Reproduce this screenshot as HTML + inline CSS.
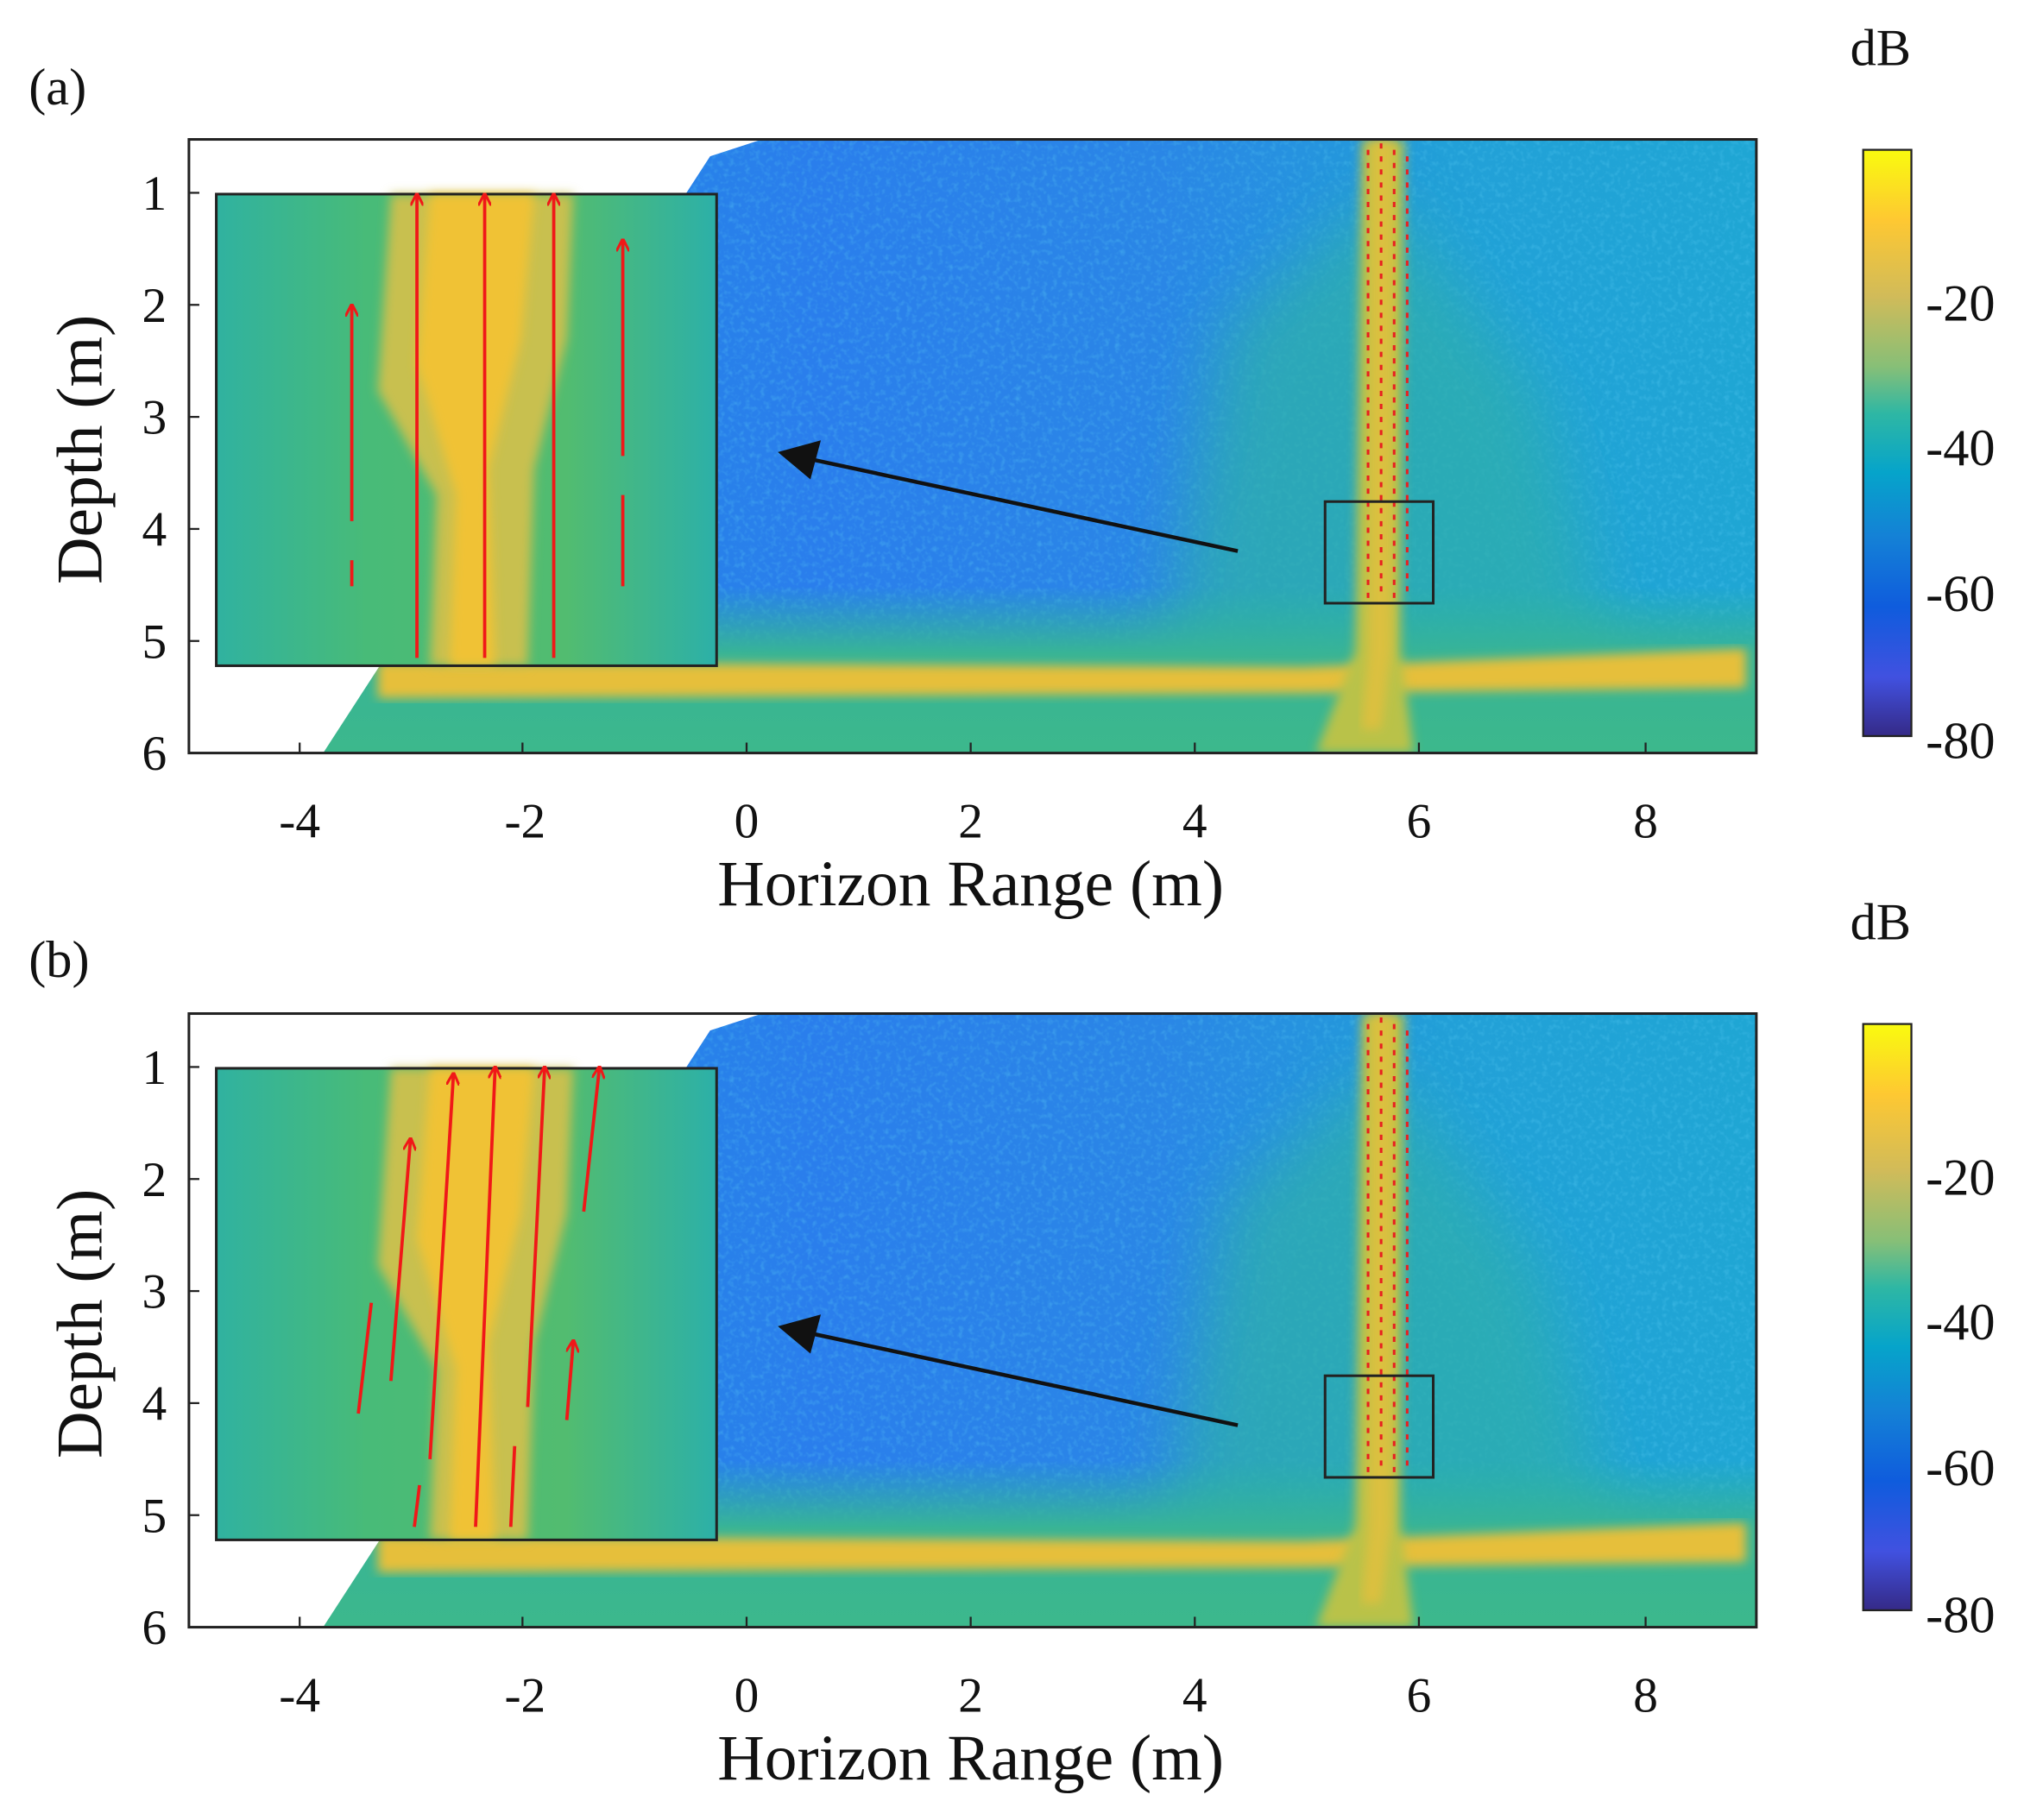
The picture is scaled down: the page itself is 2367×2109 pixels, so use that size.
<!DOCTYPE html>
<html><head><meta charset="utf-8"><style>
html,body{margin:0;padding:0;background:#fff;}
svg{display:block;}
text{font-family:"Liberation Serif",serif;fill:#111;}
</style></head><body>
<svg width="2367" height="2109" viewBox="0 0 1568 1397" preserveAspectRatio="none" xmlns="http://www.w3.org/2000/svg">
<defs>
<clipPath id="pc"><rect x="145" y="107" width="1203" height="471"/></clipPath>
<linearGradient id="cb" x1="0" y1="0" x2="0" y2="1">
<stop offset="0" stop-color="#f9fb0e"/><stop offset="0.12" stop-color="#fec832"/>
<stop offset="0.25" stop-color="#d1bb59"/><stop offset="0.37" stop-color="#87bf77"/>
<stop offset="0.45" stop-color="#2eb7a4"/><stop offset="0.55" stop-color="#06a4ca"/>
<stop offset="0.66" stop-color="#1481d6"/><stop offset="0.78" stop-color="#0f5cdd"/>
<stop offset="0.9" stop-color="#4151e0"/><stop offset="1" stop-color="#352a87"/>
</linearGradient>
<linearGradient id="bg" x1="145" y1="0" x2="1348" y2="0" gradientUnits="userSpaceOnUse">
<stop offset="0" stop-color="#1f8fe0"/><stop offset="0.4" stop-color="#2a7eec"/>
<stop offset="0.62" stop-color="#2a86e6"/><stop offset="0.8" stop-color="#22a0d8"/><stop offset="1" stop-color="#1fa6d4"/>
</linearGradient>
<linearGradient id="grn" x1="0" y1="0" x2="0" y2="1">
<stop offset="0" stop-color="#2cb4a0" stop-opacity="0"/><stop offset="0.4" stop-color="#38b496"/><stop offset="1" stop-color="#3cb88c"/>
</linearGradient>
<linearGradient id="ins" x1="0" y1="0" x2="1" y2="0">
<stop offset="0" stop-color="#30b2a0"/><stop offset="0.3" stop-color="#48bb78"/><stop offset="0.7" stop-color="#52bc70"/><stop offset="1" stop-color="#2cb0a8"/>
</linearGradient>
<filter id="bl"><feGaussianBlur stdDeviation="4"/></filter>
<filter id="bl2"><feGaussianBlur stdDeviation="25"/></filter>
<filter id="noise" x="0" y="0" width="100%" height="100%"><feTurbulence type="fractalNoise" baseFrequency="0.25" numOctaves="2" seed="3"/><feColorMatrix type="matrix" values="0 0 0 0 0.1  0 0 0 0 0.6  0 0 0 0 0.9  0 0 0 1.6 -0.75"/></filter>
<marker id="ah" markerWidth="10" markerHeight="10" refX="8" refY="5" orient="auto" markerUnits="userSpaceOnUse"><path d="M0,0 L10,5 L0,10" fill="none" stroke="#f01818" stroke-width="2"/></marker>
<g id="panel">
 <g clip-path="url(#pc)">
 <rect x="145" y="107" width="1203" height="471" fill="url(#bg)"/>
 <rect x="145" y="107" width="1203" height="471" filter="url(#noise)" opacity="0.5"/>
 <path d="M940,250 L1060,150 L1180,300 L1260,578 L880,578 Z" fill="#2fb0a8" opacity="0.7" filter="url(#bl2)"/>
 <rect x="145" y="450" width="1203" height="128" fill="url(#grn)"/>
 <path d="M290,508 L1000,512 L1340,498 L1340,528 L1000,532 L290,536 Z" fill="#e6bf3a" filter="url(#bl)"/>
 <path d="M1045,107 L1078,107 L1075,500 L1085,578 L1010,578 L1040,500 Z" fill="#b9c24a" filter="url(#bl)"/>
 <path d="M1052,107 L1070,107 L1068,500 L1060,560 L1045,560 L1050,500 Z" fill="#e4c03c" filter="url(#bl)" opacity="0.8"/>
 </g>
 <g stroke="#e82020" stroke-width="2" stroke-dasharray="4,6">
  <line x1="1050" y1="115" x2="1050" y2="460"/><line x1="1060" y1="110" x2="1060" y2="460"/><line x1="1070" y1="115" x2="1070" y2="460"/><line x1="1080" y1="120" x2="1080" y2="460"/>
 </g>
 <path d="M145,107 L585,107 L545,120 L248,578 L145,578 Z" fill="#fff"/>
 <rect x="145" y="107" width="1203" height="471" fill="none" stroke="#222" stroke-width="2"/>
 <g stroke="#222" stroke-width="1.5">
  <line x1="230" y1="578" x2="230" y2="570"/><line x1="401" y1="578" x2="401" y2="570"/><line x1="573" y1="578" x2="573" y2="570"/><line x1="745" y1="578" x2="745" y2="570"/><line x1="917" y1="578" x2="917" y2="570"/><line x1="1089" y1="578" x2="1089" y2="570"/><line x1="1263" y1="578" x2="1263" y2="570"/>
  <line x1="145" y1="148" x2="153" y2="148"/><line x1="145" y1="234" x2="153" y2="234"/><line x1="145" y1="320" x2="153" y2="320"/><line x1="145" y1="406" x2="153" y2="406"/><line x1="145" y1="492" x2="153" y2="492"/>
 </g>
 <rect x="166" y="149" width="384" height="362" fill="url(#ins)"/>
 <path d="M300,149 L440,149 L435,260 L410,360 L405,511 L330,511 L335,380 L290,300 Z" fill="#c8c050" filter="url(#bl)"/>
 <path d="M330,149 L410,149 L400,260 L375,360 L380,511 L345,511 L350,380 L320,280 Z" fill="#f0c236" filter="url(#bl)"/>
 <rect x="166" y="149" width="384" height="362" fill="none" stroke="#222" stroke-width="2"/>
 <rect x="1017" y="385" width="83" height="78" fill="none" stroke="#222" stroke-width="2"/>
 <line x1="950" y1="423" x2="620" y2="352" stroke="#111" stroke-width="3"/>
 <path d="M597,347 L630,338 L622,368 Z" fill="#111"/>
 <g font-size="38" text-anchor="middle">
  <text x="230" y="643">-4</text><text x="403" y="643">-2</text><text x="573" y="643">0</text><text x="745" y="643">2</text><text x="917" y="643">4</text><text x="1089" y="643">6</text><text x="1263" y="643">8</text>
 </g>
 <g font-size="38" text-anchor="end">
  <text x="128" y="161">1</text><text x="128" y="247">2</text><text x="128" y="333">3</text><text x="128" y="419">4</text><text x="128" y="505">5</text><text x="128" y="591">6</text>
 </g>
 <text x="745" y="695" font-size="50" text-anchor="middle">Horizon Range (m)</text>
 <text transform="translate(78,345) rotate(-90)" font-size="50" text-anchor="middle">Depth (m)</text>
 <rect x="1430" y="115" width="37" height="450" fill="url(#cb)" stroke="#222" stroke-width="1.5"/>
 <text x="1420" y="50" font-size="40">dB</text>
 <g font-size="40">
  <text x="1478" y="246">-20</text><text x="1478" y="357">-40</text><text x="1478" y="469">-60</text><text x="1478" y="582">-80</text>
 </g>
</g>
</defs>
<rect width="1568" height="1397" fill="#fff"/>
<use href="#panel"/>
<g stroke="#f01818" stroke-width="2.5" fill="none">
  <line x1="270" y1="400" x2="270" y2="235" marker-end="url(#ah)"/><line x1="270" y1="450" x2="270" y2="430"/>
  <line x1="320" y1="505" x2="320" y2="150" marker-end="url(#ah)"/>
  <line x1="372" y1="505" x2="372" y2="150" marker-end="url(#ah)"/>
  <line x1="425" y1="505" x2="425" y2="150" marker-end="url(#ah)"/>
  <line x1="478" y1="350" x2="478" y2="185" marker-end="url(#ah)"/><line x1="478" y1="450" x2="478" y2="380"/>
</g>
<text x="22" y="80" font-size="40">(a)</text>
<use href="#panel" transform="translate(0,671)"/>
<g stroke="#f01818" stroke-width="2.5" fill="none">
  <line x1="275" y1="1085" x2="285" y2="1000"/>
  <line x1="300" y1="1060" x2="315" y2="875" marker-end="url(#ah)"/>
  <line x1="318" y1="1172" x2="322" y2="1140"/>
  <line x1="330" y1="1120" x2="348" y2="825" marker-end="url(#ah)"/>
  <line x1="365" y1="1172" x2="380" y2="820" marker-end="url(#ah)"/>
  <line x1="392" y1="1172" x2="395" y2="1110"/>
  <line x1="405" y1="1080" x2="418" y2="820" marker-end="url(#ah)"/>
  <line x1="435" y1="1090" x2="440" y2="1030" marker-end="url(#ah)"/>
  <line x1="448" y1="930" x2="460" y2="820" marker-end="url(#ah)"/>
</g>
<text x="22" y="750" font-size="40">(b)</text>
</svg>
</body></html>
